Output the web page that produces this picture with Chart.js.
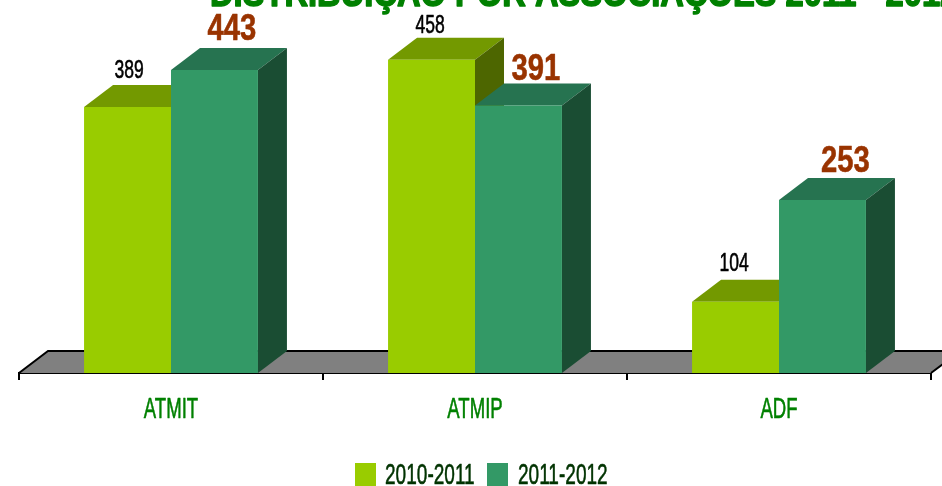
<!DOCTYPE html>
<html>
<head>
<meta charset="utf-8">
<style>
html, body { margin: 0; padding: 0; background: #fff; overflow: hidden; }
#wrap { position: relative; width: 942px; height: 500px; }
</style>
<script src="https://cdn.jsdelivr.net/npm/chart.js@4"></script>
</head>
<body>
<div id="wrap"><canvas id="chart" width="942" height="500"></canvas></div>
<script>
var categories = ["ATMIT", "ATMIP", "ADF"];
var seriesNames = ["2010-2011", "2011-2012"];
var values2011 = [389, 458, 104];
var values2012 = [443, 391, 253];
var titleText = "DISTRIBUIÇÃO POR ASSOCIAÇÕES 2011 - 2012";

var FONT = '"Liberation Sans", sans-serif';
var DX = 29, DY = 22;

// front, top, side colours per series
var shades = [
    { front: "#99cc00", top: "#739900", side: "#4d6600" },
    { front: "#339966", top: "#267350", side: "#1a4d33" }
];

// hand placed value labels, dx / dy from the top of each bar
var labelShift = [
    [[1.5, -36], [-1.5, -34], [-1.5, -38]],
    [[17.5, -40], [17.5, -35.5], [23, -38]]
];

// the reference font is very condensed and nothing installed comes close,
// so every fillText on this canvas gets squeezed sideways and thickened a bit
var canvas = document.getElementById("chart");
var context = canvas.getContext("2d");
var rawFillText = context.fillText.bind(context);
var rawStrokeText = context.strokeText.bind(context);
var squeeze = 0.64;
var thicken = 0.6;
context.fillText = function (text, x, y) {
    context.save();
    context.translate(x, y);
    context.scale(squeeze, 1);
    rawFillText(text, 0, 0);
    if (thicken > 0) {
        context.strokeStyle = context.fillStyle;
        context.lineWidth = thicken;
        context.lineJoin = "round";
        rawStrokeText(text, 0, 0);
    }
    context.restore();
};

function tallText(ctx, text, x, y, font, color, sx, align, weight, baseline) {
    ctx.save();
    ctx.font = font;
    ctx.fillStyle = color;
    ctx.textAlign = align || "center";
    ctx.textBaseline = baseline || "middle";
    var keepS = squeeze, keepT = thicken;
    squeeze = sx;
    thicken = weight;
    ctx.fillText(text, x, y);
    squeeze = keepS;
    thicken = keepT;
    ctx.restore();
}

var floorPlugin = {
    id: "floor",
    beforeDatasetsDraw: function (chart) {
        var ctx = chart.ctx, a = chart.chartArea;
        ctx.save();
        ctx.beginPath();
        ctx.moveTo(a.left, a.bottom);
        ctx.lineTo(a.left + DX, a.bottom - DY);
        ctx.lineTo(a.right + DX, a.bottom - DY);
        ctx.lineTo(a.right, a.bottom);
        ctx.closePath();
        ctx.fillStyle = "#808080";
        ctx.fill();
        ctx.strokeStyle = "#000";
        ctx.lineWidth = 2;
        ctx.beginPath();
        ctx.moveTo(a.left, a.bottom);
        ctx.lineTo(a.left + DX, a.bottom - DY);
        ctx.lineTo(a.right + DX, a.bottom - DY);
        ctx.lineTo(a.right, a.bottom);
        ctx.stroke();
        ctx.restore();
    }
};

function drawFaces(ctx, meta, c) {
    meta.data.forEach(function (bar) {
        var p = bar.getProps(["x", "y", "base", "width"], true);
        var l = p.x - p.width / 2, r = p.x + p.width / 2;
        ctx.fillStyle = c.top;
        ctx.beginPath();
        ctx.moveTo(l, p.y);
        ctx.lineTo(l + DX, p.y - DY);
        ctx.lineTo(r + DX, p.y - DY);
        ctx.lineTo(r, p.y);
        ctx.closePath();
        ctx.fill();
        ctx.fillStyle = c.side;
        ctx.beginPath();
        ctx.moveTo(r, p.y);
        ctx.lineTo(r + DX, p.y - DY);
        ctx.lineTo(r + DX, p.base - DY);
        ctx.lineTo(r, p.base);
        ctx.closePath();
        ctx.fill();
    });
}

// chart.js paints the first series last, here the second one has to sit in front
var boxPlugin = {
    id: "box",
    beforeDatasetDraw: function (chart, args) {
        if (args.index === 1) return false;
        drawFaces(chart.ctx, args.meta, shades[0]);
    },
    afterDatasetsDraw: function (chart) {
        var meta = chart.getDatasetMeta(1);
        drawFaces(chart.ctx, meta, shades[1]);
        meta.controller.draw();
    }
};

var labelPlugin = {
    id: "valueLabels",
    afterDatasetsDraw: function (chart) {
        var ctx = chart.ctx;
        chart.getDatasetMeta(0).data.forEach(function (bar, i) {
            var s = labelShift[0][i];
            tallText(ctx, String(values2011[i]), bar.x + s[0], bar.y + s[1], "25px " + FONT, "#000", 0.7, "center", 0.6);
        });
        chart.getDatasetMeta(1).data.forEach(function (bar, i) {
            var s = labelShift[1][i];
            tallText(ctx, String(values2012[i]), bar.x + s[0], bar.y + s[1], "bold 37px " + FONT, "#993300", 0.79, "center", 0.6);
        });
    },
    afterDraw: function (chart) {
        var ctx = chart.ctx;
        tallText(ctx, titleText, 210, 6, "bold 38px " + FONT, "#008000", 0.86, "left", 1.5, "alphabetic");

        // legend
        var swatchX = [355, 487], textX = [385, 518];
        seriesNames.forEach(function (name, i) {
            ctx.fillStyle = shades[i].front;
            ctx.fillRect(swatchX[i], 463, 21, 23);
            tallText(ctx, name, textX[i], 476, "30px " + FONT, "#003300", 0.635, "left", 0.6);
        });
    }
};

new Chart(canvas, {
    type: "bar",
    data: {
        labels: categories,
        datasets: [
            { label: seriesNames[0], data: values2011, backgroundColor: shades[0].front },
            { label: seriesNames[1], data: values2012, backgroundColor: shades[1].front }
        ]
    },
    options: {
        responsive: false,
        animation: false,
        layout: { padding: { left: 19, right: 11, top: 31, bottom: 37 } },
        plugins: {
            tooltip: { enabled: false },
            legend: { display: false }
        },
        scales: {
            x: {
                z: 1,
                offset: true,
                grid: { offset: true, drawOnChartArea: false, color: "#000", lineWidth: 2, tickLength: 7 },
                border: { color: "#000", width: 2 },
                ticks: { color: "#008000", padding: 13, maxRotation: 0, autoSkip: false, font: { family: FONT, size: 29 } },
                afterFit: function (scale) { scale.height = 90; }
            },
            y: { display: false, min: 0, max: 500 }
        },
        datasets: { bar: { categoryPercentage: 0.572, barPercentage: 1 } }
    },
    plugins: [floorPlugin, boxPlugin, labelPlugin]
});
</script>
</body>
</html>
